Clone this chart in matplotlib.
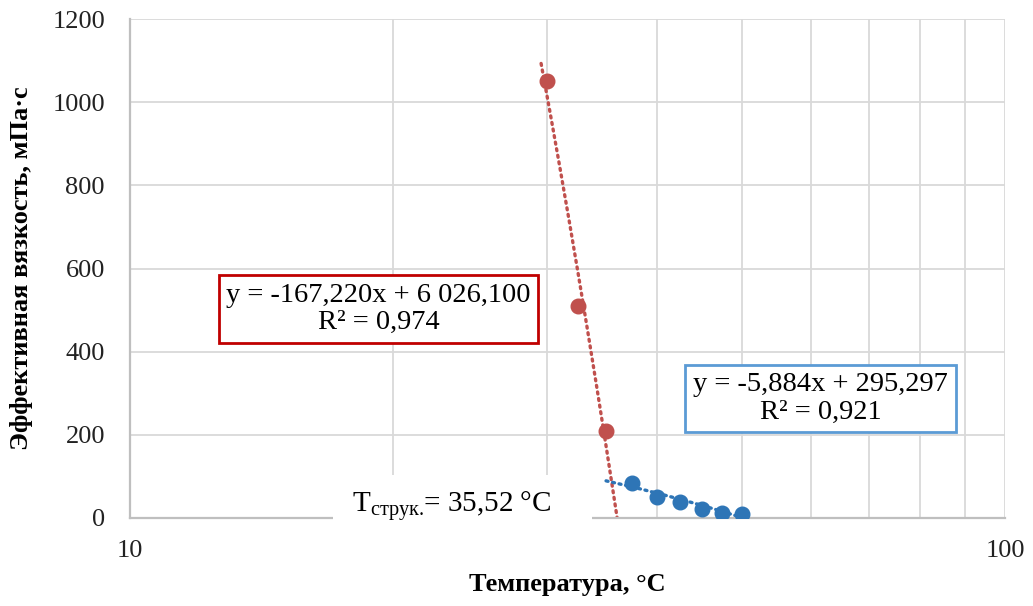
import matplotlib
matplotlib.use("Agg")
import matplotlib.pyplot as plt
from matplotlib.patches import Rectangle
import numpy as np

plt.rcParams['font.family'] = ['Liberation Serif', 'DejaVu Serif']
plt.rcParams['mathtext.fontset'] = 'custom'
plt.rcParams['mathtext.rm'] = 'Liberation Serif'

# viscosity below / above structuring temperature
t_low = [30.0, 32.5, 35.0]
eta_low = [1050, 510, 210]
t_high = [37.5, 40.0, 42.5, 45.0, 47.5, 50.0]
eta_high = [85, 51, 39, 22, 11, 9]

# linear trendlines (slope, intercept) and their x-range
fit_low = [-167.220, 6026.100]
fit_high = [-5.884, 295.297]
range_low = [29.5, 36.5]
range_high = [35.0, 50.5]

eq_low = "y = -167,220x + 6 026,100\nR² = 0,974"
eq_high = "y = -5,884x + 295,297\nR² = 0,921"
t_struct = "T$_{\\mathrm{струк.}}\\!$= 35,52 °C"

red = '#C0504D'
blue = '#2E75B6'
grid_c = '#d9d9d9'

fig = plt.figure(figsize=(10.33, 6.06), dpi=100)
ax = fig.add_axes([130/1033, 88/606, 875/1033, 499/606])

ax.set_xscale('log')
ax.set_xlim(10, 100)
ax.set_ylim(0, 1200)
ax.set_yticks(range(0, 1201, 200))
ax.set_xticks([10, 100])
ax.set_xticklabels(['10', '100'])
ax.set_xticks([20, 30, 40, 50, 60, 70, 80, 90], minor=True)
ax.xaxis.set_minor_formatter(matplotlib.ticker.NullFormatter())

ax.grid(True, which='both', axis='x', color=grid_c, lw=1.3)
ax.grid(True, which='major', axis='y', color=grid_c, lw=1.3)
ax.set_axisbelow(True)
for s in ['top', 'right']:
    ax.spines[s].set_visible(False)
for s in ['left', 'bottom']:
    ax.spines[s].set_color('#bfbfbf')
    ax.spines[s].set_linewidth(1.6)
ax.tick_params(which='both', length=0, labelsize=19, colors='#222222')
ax.tick_params(axis='y', pad=18)
ax.tick_params(axis='x', pad=16)

xl = np.linspace(*range_low, 200)
ax.plot(xl, fit_low[0] * xl + fit_low[1], color=red, lw=2.4,
        linestyle=(0, (0.6, 1.4)), dash_capstyle='round')
xh = np.linspace(*range_high, 200)
ax.plot(xh, fit_high[0] * xh + fit_high[1], color=blue, lw=2.4,
        linestyle=(0, (0.6, 1.4)), dash_capstyle='round')

ax.plot(t_low, eta_low, 'o', color=red, ms=10.5, zorder=4)
ax.plot(t_high, eta_high, 'o', color=blue, ms=10.5, zorder=4)

ax.set_xlabel("Температура, °С", fontsize=19, fontweight='bold', labelpad=8)
ax.set_ylabel("Эффективная вязкость, мПа·с", fontsize=19, fontweight='bold', labelpad=14)

fig.text(378.5/1033, 1 - 309/606, eq_low, ha='center', va='center', fontsize=20.5,
         linespacing=1.12,
         bbox=dict(boxstyle='square,pad=0.27', fc='white', ec='#C00000', lw=2))
fig.text(820.5/1033, 1 - 398.5/606, eq_high, ha='center', va='center', fontsize=20.5,
         linespacing=1.12,
         bbox=dict(boxstyle='square,pad=0.27', fc='white', ec='#5B9BD5', lw=2))

fig.patches.append(Rectangle((333/1033, 1 - 524/606), 259/1033, 49/606,
                             transform=fig.transFigure, fc='white', ec='none', zorder=3))
fig.text(352/1033, 1 - 512/606, t_struct, ha='left', va='baseline', fontsize=21, zorder=4)

fig.savefig('out.png', dpi=100)
